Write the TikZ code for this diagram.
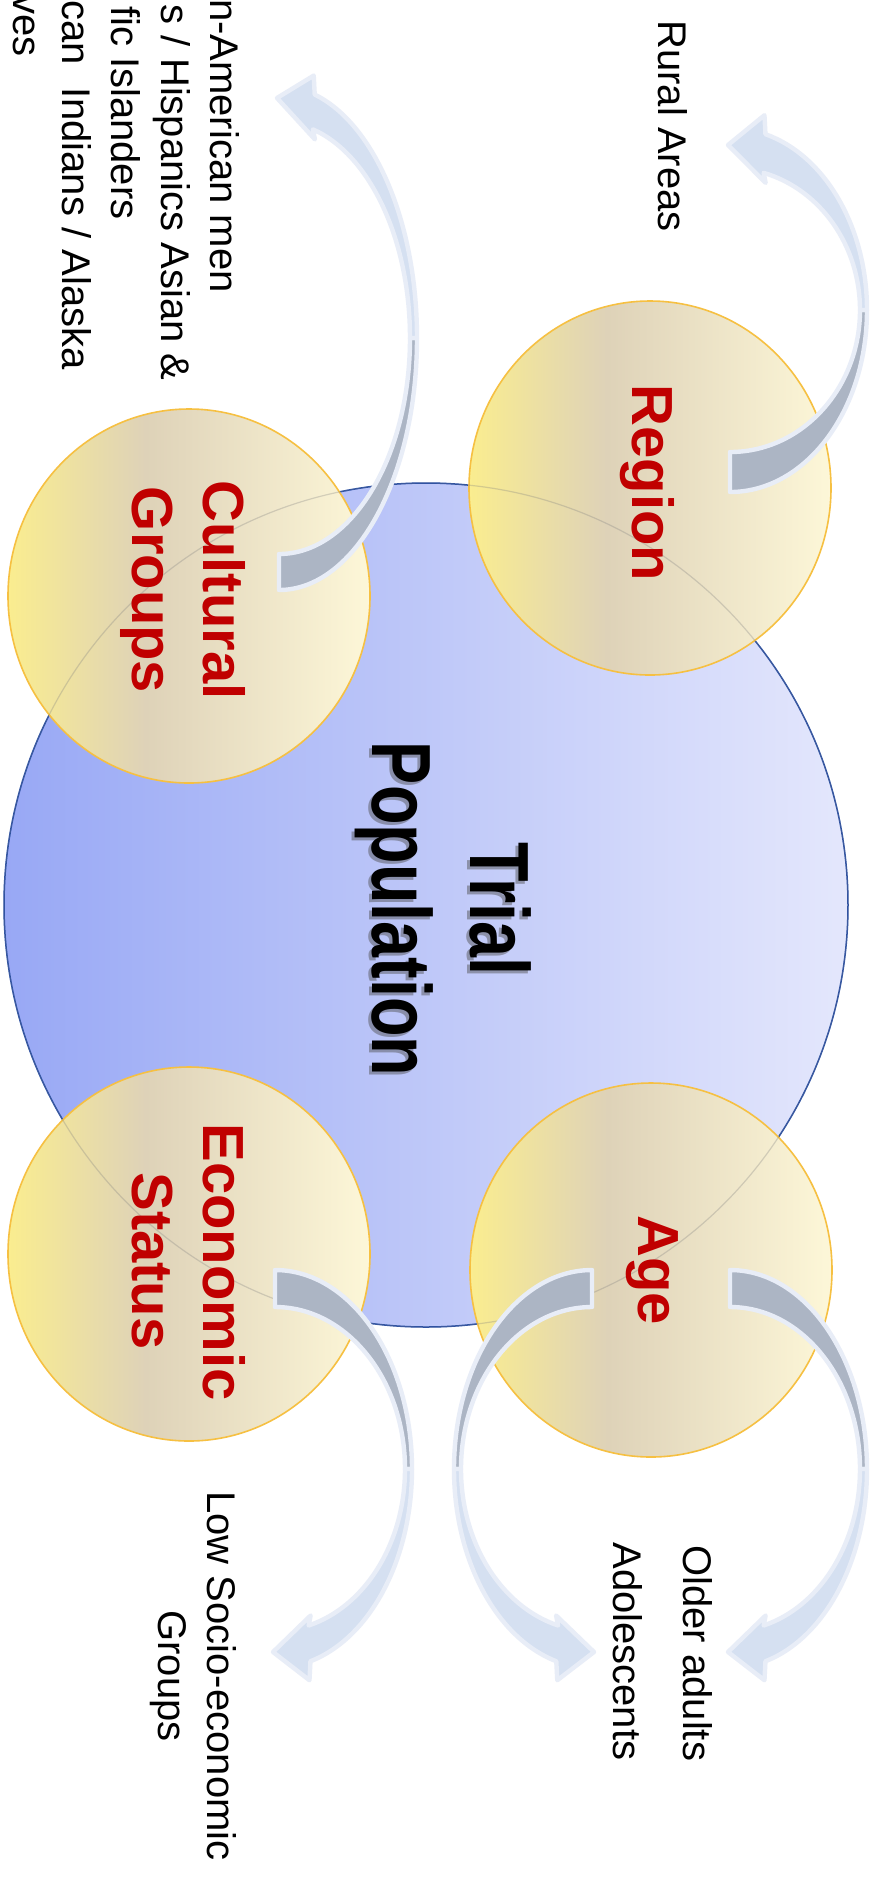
\documentclass[tikz,border=0pt]{standalone}
\usepackage{fontspec}
\setmainfont{Liberation Sans}
\newfontfamily\trialfont{Liberation Sans}[FakeStretch=0.77]

\definecolor{popleft}{RGB}{152,168,245}
\definecolor{popright}{RGB}{228,231,252}
\definecolor{popedge}{RGB}{28,72,170}
\definecolor{ballA}{RGB}{250,237,143}
\definecolor{ballB}{RGB}{222,210,184}
\definecolor{ballC}{RGB}{253,247,216}
\definecolor{balledge}{RGB}{246,192,66}
\definecolor{labelred}{RGB}{192,0,0}
\definecolor{arrowback}{RGB}{172,181,196}
\definecolor{arrowfront}{RGB}{213,224,241}
\definecolor{arrowrim}{RGB}{232,237,247}

\pgfdeclarehorizontalshading{ballshade}{100bp}{color(0bp)=(ballA); color(25bp)=(ballA); color(44bp)=(ballB); color(75bp)=(ballC); color(100bp)=(ballC)}

\tikzset{
  ball/.style={shading=ballshade, draw=balledge, line width=0.8pt},
  backband/.style={fill=arrowback, draw=arrowrim, line width=2.2pt, line join=round},
  frontband/.style={fill=arrowfront, draw=arrowrim, line width=2.2pt, line join=round},
  lbl/.style={rotate=-90, text=labelred, font=\fontsize{29}{35}\selectfont\bfseries, inner sep=0pt},
  note/.style={rotate=-90, font=\fontsize{20}{24}\selectfont, inner sep=0pt},
  trial/.style={rotate=-90, font=\trialfont\fontsize{42}{49}\selectfont\bfseries, inner sep=0pt},
}

% #1 a_outer, #2 b_outer, #3 a_inner, #4 b_inner, #5 tip y
\newcommand{\bandarrow}[5]{%
  \pgfmathsetmacro{\hox}{0.2588*#1}%
  \pgfmathsetmacro{\hoy}{-0.9659*#2}%
  \pgfmathsetmacro{\hix}{0.2588*#3}%
  \pgfmathsetmacro{\hiy}{-0.9659*#4}%
  \pgfmathsetmacro{\ubx}{\hox-1}%
  \pgfmathsetmacro{\uby}{\hoy-19}%
  \pgfmathsetmacro{\lbx}{\hix+2}%
  \pgfmathsetmacro{\lby}{\hiy+10}%
  \path[backband] (0,#2) arc[start angle=90,end angle=0,x radius=#1,y radius=#2]
     -- (#3,0) arc[start angle=0,end angle=90,x radius=#3,y radius=#4] -- cycle;
  \path[frontband] (#1,0) arc[start angle=0,end angle=-75,x radius=#1,y radius=#2]
     -- (\ubx,\uby) -- (-2,#5) -- (\lbx,\lby) -- (\hix,\hiy)
     arc[start angle=-75,end angle=0,x radius=#3,y radius=#4] -- cycle;
}

\begin{document}
\begin{tikzpicture}[x=0.5pt,y=-0.5pt]
\useasboundingbox (0,0) rectangle (879,1887);
\fill[white] (0,0) rectangle (879,1887);

% central population circle
\path[left color=popleft, right color=popright, draw=popedge, line width=0.75pt] (426,905) circle[radius=422];

% four factor circles
\path[ball] (650,488) ellipse[x radius=181, y radius=187];
\path[ball] (189,596) ellipse[x radius=181, y radius=187];
\path[ball] (189,1254) ellipse[x radius=181, y radius=187];
\path[ball] (651,1270) ellipse[x radius=181, y radius=187];
\draw[black!50, opacity=0.3, line width=0.6pt] (426,905) circle[radius=422];

% curved arrows
\begin{scope}[shift={(730,310)}]
  \bandarrow{137}{182}{130}{142}{-165}
\end{scope}
\begin{scope}[shift={(279,338)}]
  \bandarrow{138}{252}{131}{216}{-240}
\end{scope}
\begin{scope}[shift={(275,1469)}, yscale=-1]
  \bandarrow{137}{199}{130}{162}{-183}
\end{scope}
\begin{scope}[shift={(730,1469)}, yscale=-1]
  \bandarrow{137}{199}{130}{162}{-183}
\end{scope}
\begin{scope}[shift={(592,1469)}, xscale=-1, yscale=-1]
  \bandarrow{138}{199}{131}{162}{-183}
\end{scope}

% central label with shadow
\node[trial, anchor=base, text=black!70, opacity=0.45] (trialsh) at (467,912) {Trial};
\node[trial, anchor=base, text=black!70, opacity=0.45] (popsh) at (369,912) {Population};
\node[trial, anchor=base] (trial) at (470,909) {Trial};
\node[trial, anchor=base] (pop) at (372,909) {Population};

% factor labels
\node[lbl, anchor=base] (region) at (632,483) {Region};
\node[lbl, anchor=base] (cult1) at (203,590) {Cultural};
\node[lbl, anchor=base] (cult2) at (132,590) {Groups};
\node[lbl, anchor=base] (econ1) at (203,1262) {Economic};
\node[lbl, anchor=base] (econ2) at (132,1261) {Status};
\node[lbl, anchor=base] (age) at (638,1270) {Age};

% annotations
\node[note, anchor=base west] (rural) at (658,20) {Rural Areas};
\node[note, anchor=base west] (older) at (683,1545) {Older adults};
\node[note, anchor=base west] (adol) at (613,1542) {Adolescents};
\node[note, anchor=base] (low1) at (207,1676) {Low Socio-economic};
\node[note, anchor=base] (low2) at (158,1676) {Groups};
\node[note, anchor=base east] (cg1) at (210,293) {n-American men};
\node[note, anchor=base east] (cg2) at (161,381) {s / Hispanics Asian \&};
\node[note, anchor=base east] (cg3) at (112,220) {fic Islanders};
\node[note, anchor=base east] (cg4) at (62,370) {can\ \ Indians / Alaska};
\node[note, anchor=base east] (cg5) at (13,57) {ves};
\end{tikzpicture}
\end{document}
